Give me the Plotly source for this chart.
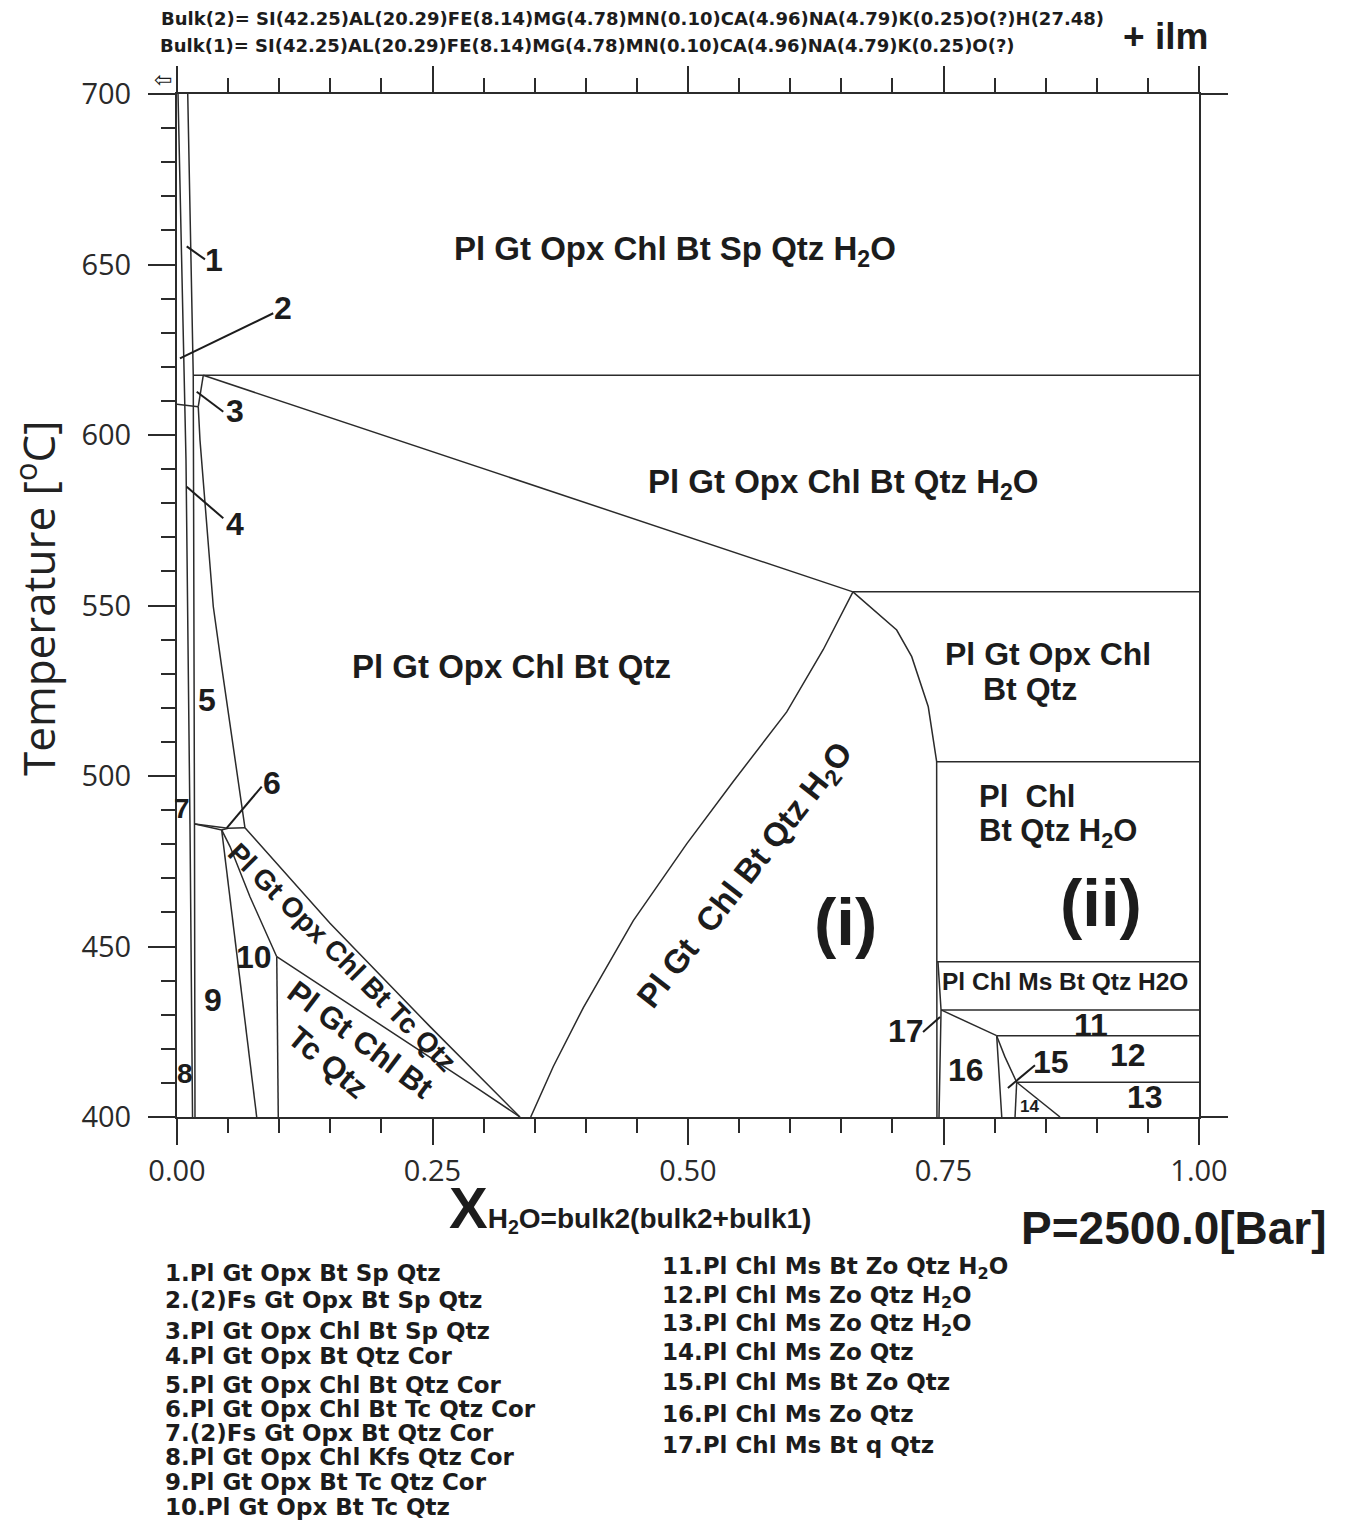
import plotly.graph_objects as go

# ---------------- phase boundaries: X_H2O (x) vs temperature (T, °C) ----------------
L1_x = [0.001, 0.0088, 0.0127, 0.0147, 0.0152]
L1_T = [700, 592.7, 485.9, 429.0, 400]
L2_x = [0.0105, 0.0159, 0.0171, 0.0176]
L2_T = [700, 617.5, 485.9, 400]
h609_x = [0.0, 0.0208]
h609_T = [609.0, 608.3]
h617_x = [0.0159, 1.0]
h617_T = [617.5, 617.5]
tri3_x = [0.0257, 0.0208]
tri3_T = [617.5, 608.3]
S_x = [0.0208, 0.0225, 0.0355, 0.0437, 0.0665]
S_T = [608.3, 598.5, 549.7, 532.1, 484.8]
D_x = [0.0257, 0.6614]
D_T = [617.5, 554.0]
h554_x = [0.6614, 1.0]
h554_T = [554.0, 554.0]
R_x = [0.6614, 0.7042, 0.7189, 0.7351, 0.7433, 0.7436, 0.7436]
R_T = [554.0, 542.8, 535.0, 520.3, 504.2, 463.6, 400]
h504_x = [0.7433, 1.0]
h504_T = [504.2, 504.2]
Q_x = [0.6614, 0.6324, 0.5966, 0.5443, 0.4987, 0.4465, 0.3976, 0.3682, 0.3461]
Q_T = [554.0, 537.1, 518.8, 498.4, 480.1, 457.6, 432.1, 414.8, 400]
h486a_x = [0.0176, 0.0437, 0.0499]
h486a_T = [485.9, 484.2, 484.7]
h486b_x = [0.0176, 0.0499, 0.0665]
h486b_T = [485.9, 484.7, 484.8]
U_x = [0.0665, 0.1497, 0.2476, 0.3356]
U_T = [484.8, 456.8, 426.5, 400]
V_x = [0.0976, 0.1823, 0.2476, 0.2965, 0.3356]
V_T = [447.0, 430.4, 417.7, 407.9, 400]
b10a_x = [0.0437, 0.0519, 0.0714, 0.0976]
b10a_T = [484.2, 479.3, 464.6, 447.0]
b910_x = [0.0437, 0.0780]
b910_T = [484.2, 400]
b10v_x = [0.0976, 0.0991]
b10v_T = [447.0, 400]
b17_x = [0.7446, 0.7476, 0.7456]
b17_T = [445.5, 431.4, 400]
h445_x = [0.7436, 1.0]
h445_T = [445.5, 445.5]
h431_x = [0.7476, 1.0]
h431_T = [431.4, 431.4]
b16a_x = [0.7476, 0.802]
b16a_T = [431.4, 423.85]
h424_x = [0.802, 1.0]
h424_T = [423.85, 423.85]
b16b_x = [0.802, 0.807]
b16b_T = [423.85, 400]
b15_x = [0.802, 0.810, 0.8216]
b15_T = [423.85, 417.7, 410.2]
h410_x = [0.8216, 1.0]
h410_T = [410.2, 410.2]
b14a_x = [0.8216, 0.820]
b14a_T = [410.2, 400]
b14b_x = [0.8216, 0.864]
b14b_T = [410.2, 400]

boundaries = [
    (L1_x, L1_T), (L2_x, L2_T), (h609_x, h609_T), (h617_x, h617_T),
    (tri3_x, tri3_T), (S_x, S_T), (D_x, D_T), (h554_x, h554_T),
    (R_x, R_T), (h504_x, h504_T), (Q_x, Q_T), (h486a_x, h486a_T),
    (h486b_x, h486b_T), (U_x, U_T), (V_x, V_T), (b10a_x, b10a_T),
    (b910_x, b910_T), (b10v_x, b10v_T), (b17_x, b17_T), (h445_x, h445_T),
    (h431_x, h431_T), (b16a_x, b16a_T), (h424_x, h424_T), (b16b_x, b16b_T),
    (b15_x, b15_T), (h410_x, h410_T), (b14a_x, b14a_T), (b14b_x, b14b_T),
]

# leader lines from field numbers to narrow fields
leaders = [
    ([0.0274, 0.0095], [651.5, 655.3]),
    ([0.0942, 0.0029], [635.7, 622.5]),
    ([0.0453, 0.0193], [606.8, 612.7]),
    ([0.0453, 0.0095], [575.6, 584.8]),
    ([0.0829, 0.0486], [496.9, 484.7]),
    ([0.7300, 0.7466], [424.9, 429.3]),
    ([0.8395, 0.8130], [415.2, 408.5]),
]

# field labels: (text, x, T, font size, angle, xanchor)
field_labels = [
    ("Pl Gt Opx Chl Bt Sp Qtz H<sub>2</sub>O", 0.487, 654.0, 33, 0, "center"),
    ("Pl Gt Opx Chl Bt Qtz H<sub>2</sub>O", 0.652, 585.6, 33, 0, "center"),
    ("Pl Gt Opx Chl Bt Qtz", 0.327, 532.0, 33, 0, "center"),
    ("Pl Gt Opx Chl", 0.852, 535.8, 32, 0, "center"),
    ("Bt Qtz", 0.835, 525.5, 32, 0, "center"),
    ("Pl  Chl", 0.783, 493.9, 31, 0, "left"),
    ("Bt Qtz H<sub>2</sub>O", 0.783, 483.3, 31, 0, "left"),
    ("(ii)", 0.904, 463.0, 67, 0, "center"),
    ("(i)", 0.654, 457.2, 67, 0, "center"),
    ("Pl Gt  Chl Bt Qtz H<sub>2</sub>O", 0.557, 470.7, 33, -52, "center"),
    ("Pl Gt Opx Chl Bt Tc Qtz", 0.162, 446.9, 28, 45, "center"),
    ("Pl Gt Chl Bt", 0.179, 422.6, 31, 37, "center"),
    ("Tc Qtz", 0.148, 416.1, 31, 40, "center"),
    ("Pl Chl Ms Bt Qtz H2O", 0.869, 439.6, 24.5, 0, "center"),
    ("11", 0.894, 427.0, 32, 0, "center"),
    ("12", 0.931, 418.2, 32, 0, "center"),
    ("13", 0.947, 405.9, 32, 0, "center"),
    ("14", 0.834, 403.2, 17, 0, "center"),
    ("15", 0.855, 416.1, 32, 0, "center"),
    ("16", 0.772, 413.8, 32, 0, "center"),
    ("17", 0.713, 425.2, 32, 0, "center"),
    ("1", 0.036, 651.3, 32, 0, "center"),
    ("2", 0.104, 637.2, 32, 0, "center"),
    ("3", 0.057, 607.0, 32, 0, "center"),
    ("4", 0.057, 573.9, 32, 0, "center"),
    ("5", 0.029, 522.3, 32, 0, "center"),
    ("6", 0.093, 498.0, 32, 0, "center"),
    ("7", 0.005, 490.6, 28, 0, "center"),
    ("8", 0.008, 412.9, 28, 0, "center"),
    ("9", 0.035, 434.3, 32, 0, "center"),
    ("10", 0.075, 446.9, 32, 0, "center"),
]

# assemblage key below the diagram
key_left = [
    "1.Pl Gt Opx Bt Sp Qtz",
    "2.(2)Fs Gt Opx Bt Sp Qtz",
    "3.Pl Gt Opx Chl Bt Sp Qtz",
    "4.Pl Gt Opx Bt Qtz Cor",
    "5.Pl Gt Opx Chl Bt Qtz Cor",
    "6.Pl Gt Opx Chl Bt Tc Qtz Cor",
    "7.(2)Fs Gt Opx Bt Qtz Cor",
    "8.Pl Gt Opx Chl Kfs Qtz Cor",
    "9.Pl Gt Opx Bt Tc Qtz Cor",
    "10.Pl Gt Opx Bt Tc Qtz",
]
key_left_y = [1273, 1300, 1331, 1356, 1385, 1409, 1433, 1457, 1482, 1507]
key_right = [
    "11.Pl Chl Ms Bt Zo Qtz H<sub>2</sub>O",
    "12.Pl Chl Ms Zo Qtz H<sub>2</sub>O",
    "13.Pl Chl Ms Zo Qtz H<sub>2</sub>O",
    "14.Pl Chl Ms Zo Qtz",
    "15.Pl Chl Ms Bt Zo Qtz",
    "16.Pl Chl Ms Zo Qtz",
    "17.Pl Chl Ms Bt q Qtz",
]
key_right_y = [1268, 1297, 1325, 1352, 1382, 1414, 1445]

bulk2 = "Bulk(2)= SI(42.25)AL(20.29)FE(8.14)MG(4.78)MN(0.10)CA(4.96)NA(4.79)K(0.25)O(?)H(27.48)"
bulk1 = "Bulk(1)= SI(42.25)AL(20.29)FE(8.14)MG(4.78)MN(0.10)CA(4.96)NA(4.79)K(0.25)O(?)"

W, H = 1345, 1521
ML, MR, MT, MB = 177, 146, 94, 404
PW, PH = W - ML - MR, H - MT - MB


def px(xp):
    return (xp - ML) / PW


def py(yp):
    return (H - MB - yp) / PH


LINE = "#2b2b2b"
INK = "#1c1c1c"
BOLD = "Liberation Sans, Arial, sans-serif"
HEAVY = "DejaVu Sans, sans-serif"

fig = go.Figure()
for bx, bt in boundaries:
    fig.add_trace(go.Scatter(x=bx, y=bt, mode="lines", hoverinfo="skip",
                             line=dict(color=LINE, width=1.5), showlegend=False))
for lx, lt in leaders:
    fig.add_trace(go.Scatter(x=lx, y=lt, mode="lines", hoverinfo="skip",
                             line=dict(color=INK, width=2), showlegend=False))

ann = []
for txt, x, t, fs, ang, xa in field_labels:
    ann.append(dict(x=x, y=t, xref="x", yref="y", text=txt, showarrow=False,
                    textangle=ang, xanchor=xa, yanchor="middle",
                    font=dict(family=BOLD, size=fs, color=INK, weight="bold")))

for txt, yy in zip(key_left, key_left_y):
    ann.append(dict(x=px(163), y=py(yy), xref="paper", yref="paper", text=txt,
                    showarrow=False, xanchor="left", yanchor="middle",
                    font=dict(family=HEAVY, size=23, color=INK, weight="bold")))
for txt, yy in zip(key_right, key_right_y):
    ann.append(dict(x=px(660), y=py(yy), xref="paper", yref="paper", text=txt,
                    showarrow=False, xanchor="left", yanchor="middle",
                    font=dict(family=HEAVY, size=23, color=INK, weight="bold")))

# composition header
ann.append(dict(x=px(159), y=py(18), xref="paper", yref="paper", text=bulk2,
                showarrow=False, xanchor="left", yanchor="middle",
                font=dict(family=HEAVY, size=18, color=INK, weight="bold")))
ann.append(dict(x=px(158), y=py(45), xref="paper", yref="paper", text=bulk1,
                showarrow=False, xanchor="left", yanchor="middle",
                font=dict(family=HEAVY, size=18, color=INK, weight="bold")))
ann.append(dict(x=px(1165), y=py(36), xref="paper", yref="paper", text="+ ilm",
                showarrow=False, xanchor="center", yanchor="middle",
                font=dict(family=BOLD, size=37, color=INK, weight="bold")))
ann.append(dict(x=px(163), y=py(79), xref="paper", yref="paper", text="⇦",
                showarrow=False, xanchor="center", yanchor="middle",
                font=dict(family=HEAVY, size=22, color=INK)))

# axis titles and pressure
ann.append(dict(x=px(36), y=py(598), xref="paper", yref="paper",
                text="Temperature [<sup>o</sup>C]", textangle=-90, showarrow=False,
                xanchor="center", yanchor="middle",
                font=dict(family="Open Sans, sans-serif", size=44, color="#222")))
ann.append(dict(x=px(630), y=py(1207), xref="paper", yref="paper",
                text="<span style='font-size:58px'>X</span>H<sub>2</sub>O=bulk2(bulk2+bulk1)",
                showarrow=False, xanchor="center", yanchor="middle",
                font=dict(family="Liberation Sans Narrow, Liberation Sans, sans-serif",
                          size=28, color=INK, weight="bold")))
ann.append(dict(x=px(1174), y=py(1228), xref="paper", yref="paper", text="P=2500.0[Bar]",
                showarrow=False, xanchor="center", yanchor="middle",
                font=dict(family=BOLD, size=46, color=INK, weight="bold")))

shapes = [
    dict(type="line", xref="paper", yref="paper", x0=1, x1=px(1228), y0=1, y1=1,
         line=dict(color=LINE, width=2)),
    dict(type="line", xref="paper", yref="paper", x0=1, x1=px(1228), y0=0, y1=0,
         line=dict(color=LINE, width=2)),
]

tickfont = dict(family="Open Sans, sans-serif", size=29, color="#2a2a2a")
fig.update_layout(
    width=W, height=H, autosize=False,
    margin=dict(l=ML, r=MR, t=MT, b=MB, pad=0),
    paper_bgcolor="white", plot_bgcolor="white",
    annotations=ann, shapes=shapes,
    xaxis=dict(range=[0, 1], showgrid=False, zeroline=False, showline=True,
               linecolor=LINE, linewidth=2, mirror="ticks", ticks="outside",
               ticklen=26, tickwidth=2, tickcolor=LINE, tick0=0, dtick=0.25,
               tickformat=".2f", tickfont=tickfont, ticklabelstandoff=1,
               minor=dict(dtick=0.05, ticks="outside", ticklen=14, tickwidth=1.5,
                          tickcolor=LINE, showgrid=False)),
    yaxis=dict(range=[400, 700], showgrid=False, zeroline=False, showline=True,
               linecolor=LINE, linewidth=2, mirror=True, ticks="outside",
               ticklen=27, tickwidth=2, tickcolor=LINE, tick0=400, dtick=50,
               tickfont=tickfont, ticklabelstandoff=11,
               minor=dict(dtick=10, ticks="outside", ticklen=14, tickwidth=1.5,
                          tickcolor=LINE, showgrid=False)),
)

fig.write_html("out.html")
